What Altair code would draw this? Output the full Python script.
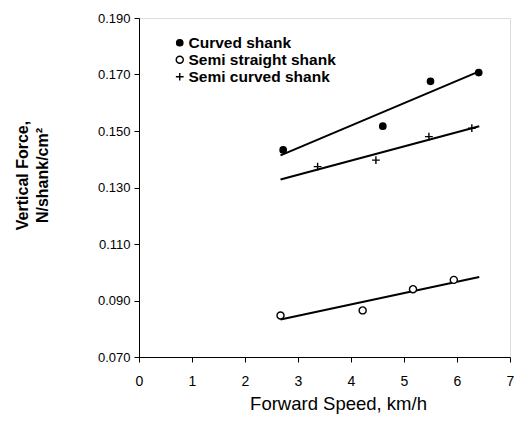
import altair as alt
import pandas as pd

series_names = ["Curved shank", "Semi straight shank", "Semi curved shank"]

speed_curved = [2.72, 4.60, 5.50, 6.41]
force_curved = [0.1433, 0.1517, 0.1676, 0.1707]

speed_semi_straight = [2.67, 4.22, 5.17, 5.94]
force_semi_straight = [0.0847, 0.0865, 0.0940, 0.0973]

speed_semi_curved = [3.37, 4.47, 5.47, 6.28]
force_semi_curved = [0.1374, 0.1397, 0.1480, 0.1510]

x_ticks = [0, 1, 2, 3, 4, 5, 6, 7]
y_ticks = [0.070, 0.090, 0.110, 0.130, 0.150, 0.170, 0.190]
fit_extent = [2.67, 6.42]

rows = []
for name, xs, ys in [
    (series_names[0], speed_curved, force_curved),
    (series_names[1], speed_semi_straight, force_semi_straight),
    (series_names[2], speed_semi_curved, force_semi_curved),
]:
    for xv, yv in zip(xs, ys):
        rows.append({"series": name, "speed": xv, "force": yv})
df = pd.DataFrame(rows)

FONT = "Liberation Sans"
plus_path = "M-1,0L1,0M0,-1L0,1"


def legend_spec():
    return alt.Legend(
        title=None, orient="none", legendX=33, legendY=17, padding=0,
        labelFont=FONT, labelFontSize=15.5, labelFontWeight="bold",
        labelColor="black", symbolStrokeWidth=1.4,
        rowPadding=0, labelOffset=1,
    )


x_enc = alt.X(
    "speed:Q",
    scale=alt.Scale(domain=[0, 7], nice=False, zero=False),
    axis=alt.Axis(
        values=x_ticks, format="d", grid=False, labelFlush=False,
        title="Forward Speed, km/h",
        titleFont=FONT, titleFontSize=18.5, titleFontWeight="normal",
        titleX=199, titleY=46, titleBaseline="middle", titleAlign="center",
        labelFont=FONT, labelFontSize=14, labelPadding=12,
        tickSize=5, tickColor="black", domainColor="black",
        labelColor="black", titleColor="black",
    ),
)
y_enc = alt.Y(
    "force:Q",
    scale=alt.Scale(domain=[0.07, 0.19], nice=False, zero=False),
    axis=alt.Axis(
        values=y_ticks, format=".3f", grid=False, labelFlush=False,
        title=["Vertical Force,", "N/shank/cm²"],
        titleFont=FONT, titleFontSize=16, titleFontWeight="bold",
        titleAngle=-90, titleX=-125, titleY=157, titleBaseline="top",
        titleAlign="center", titleLineHeight=20,
        labelFont=FONT, labelFontSize=13, labelPadding=4,
        tickSize=5, tickColor="black", domainColor="black",
        labelColor="black", titleColor="black",
    ),
)

points = alt.Chart(df).mark_point(stroke="black", strokeWidth=1.4, opacity=1).encode(
    x=x_enc,
    y=y_enc,
    shape=alt.Shape(
        "series:N",
        scale=alt.Scale(domain=series_names, range=["circle", "circle", plus_path]),
        legend=legend_spec(),
    ),
    fill=alt.Fill(
        "series:N",
        scale=alt.Scale(domain=series_names, range=["black", "white", "transparent"]),
        legend=legend_spec(),
    ),
    stroke=alt.Stroke(
        "series:N",
        scale=alt.Scale(domain=series_names, range=["black", "black", "black"]),
        legend=legend_spec(),
    ),
    size=alt.Size(
        "series:N",
        scale=alt.Scale(domain=series_names, range=[40, 60, 180]),
        legend=legend_spec(),
    ),
)

lines = alt.Chart(df).transform_regression(
    "speed", "force", groupby=["series"], extent=fit_extent
).mark_line(color="black", strokeWidth=2).encode(
    x="speed:Q",
    y="force:Q",
    detail="series:N",
)

chart = (
    alt.layer(lines, points)
    .properties(
        width=371,
        height=339,
        autosize=alt.AutoSizeParams(type="none"),
        padding={"left": 131, "top": 10, "right": 4, "bottom": 57},
    )
    .configure_view(stroke="#333", strokeWidth=1)
    .configure(background="white")
)

chart.save("out.html", embed_options={"renderer": "svg", "actions": False})
